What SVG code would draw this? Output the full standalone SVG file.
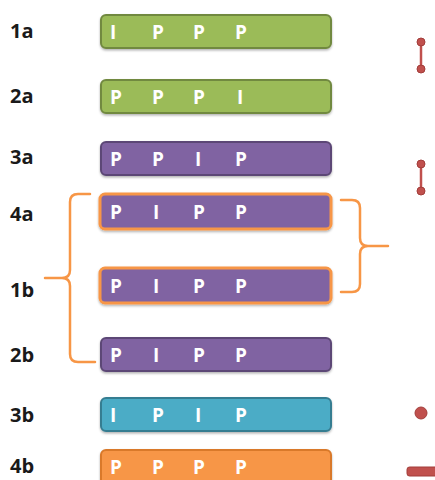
<svg xmlns="http://www.w3.org/2000/svg" width="435" height="480" viewBox="0 0 435 480">
<defs>
<style>
.lbl{font-family:"Open Sans","Liberation Sans",sans-serif;font-weight:bold;font-size:20px;fill:#1a1a1a}
.ch{font-family:"Open Sans","Liberation Sans",sans-serif;font-weight:bold;font-size:19px;fill:#fff}
.g{fill:#9BBB59;stroke:#71893F;stroke-width:2}
.p{fill:#8064A2;stroke:#5C4776;stroke-width:2}
.po{fill:#8064A2;stroke:#F79646;stroke-width:3}
.b{fill:#4BACC6;stroke:#357D91;stroke-width:2}
.o{fill:#F79646;stroke:#D9792A;stroke-width:2}
.br{fill:none;stroke:#F79646;stroke-width:2.5;stroke-linecap:round;stroke-linejoin:round}
.red{fill:#C0504D;stroke:#A23D3A;stroke-width:1}
</style>
<filter id="sh" x="-5%" y="-20%" width="110%" height="150%"><feDropShadow dx="0" dy="1.5" stdDeviation="1.2" flood-color="#000" flood-opacity="0.3"/></filter>
</defs>
<rect width="435" height="480" fill="#fff"/>
<g id="n1a"><text class="lbl" x="10" y="38">1a</text><rect class="g" x="101" y="15" width="230" height="33" rx="5" filter="url(#sh)"/><text class="ch" y="39"><tspan x="110">I</tspan><tspan x="152">P</tspan><tspan x="193">P</tspan><tspan x="235">P</tspan></text></g>
<g id="n2a"><text class="lbl" x="10" y="103">2a</text><rect class="g" x="101" y="80" width="230" height="33" rx="5" filter="url(#sh)"/><text class="ch" y="104"><tspan x="110">P</tspan><tspan x="152">P</tspan><tspan x="193">P</tspan><tspan x="237">I</tspan></text></g>
<g id="n3a"><text class="lbl" x="10" y="164">3a</text><rect class="p" x="101" y="142" width="230" height="33" rx="5" filter="url(#sh)"/><text class="ch" y="166"><tspan x="110">P</tspan><tspan x="152">P</tspan><tspan x="195">I</tspan><tspan x="235">P</tspan></text></g>
<g id="n4a"><text class="lbl" x="10" y="221">4a</text><rect class="po" x="100" y="194" width="231" height="35" rx="5" filter="url(#sh)"/><text class="ch" y="219"><tspan x="110">P</tspan><tspan x="153">I</tspan><tspan x="193">P</tspan><tspan x="235">P</tspan></text></g>
<g id="n1b"><text class="lbl" x="10" y="297">1b</text><rect class="po" x="100" y="268" width="231" height="35" rx="5" filter="url(#sh)"/><text class="ch" y="293"><tspan x="110">P</tspan><tspan x="153">I</tspan><tspan x="193">P</tspan><tspan x="235">P</tspan></text></g>
<g id="n2b"><text class="lbl" x="10" y="362">2b</text><rect class="p" x="101" y="338" width="230" height="33" rx="5" filter="url(#sh)"/><text class="ch" y="362"><tspan x="110">P</tspan><tspan x="153">I</tspan><tspan x="193">P</tspan><tspan x="235">P</tspan></text></g>
<g id="n3b"><text class="lbl" x="10" y="422">3b</text><rect class="b" x="101" y="398" width="230" height="33" rx="5" filter="url(#sh)"/><text class="ch" y="422"><tspan x="110">I</tspan><tspan x="152">P</tspan><tspan x="195">I</tspan><tspan x="235">P</tspan></text></g>
<g id="n4b"><text class="lbl" x="10" y="473">4b</text><rect class="o" x="101" y="450" width="230" height="40" rx="5" filter="url(#sh)"/><text class="ch" y="474"><tspan x="110">P</tspan><tspan x="152">P</tspan><tspan x="193">P</tspan><tspan x="235">P</tspan></text></g>
<g id="connectors">
<path class="br" d="M90,194 H78 Q70,194 70,202 V270 Q70,278 62,278 H45 M62,278 Q70,278 70,286 V354 Q70,362 78,362 H95"/>
<path class="br" d="M341,200 H352 Q360,200 360,208 V238 Q360,246 368,246 H388 M368,246 Q360,246 360,254 V284 Q360,292 352,292 H341"/>
</g>
<g id="m1"><line x1="421" y1="42" x2="421" y2="69" stroke="#C0504D" stroke-width="2.5"/><circle class="red" cx="421" cy="42" r="4"/><circle class="red" cx="421" cy="69" r="4"/></g>
<g id="m2"><line x1="421" y1="164" x2="421" y2="191" stroke="#C0504D" stroke-width="2.5"/><circle class="red" cx="421" cy="164" r="4"/><circle class="red" cx="421" cy="191" r="4"/></g>
<g id="m3"><circle class="red" cx="421" cy="413" r="6"/></g>
<g id="m4"><rect class="red" x="407" y="467" width="35" height="9" rx="2.5"/></g>
</svg>
